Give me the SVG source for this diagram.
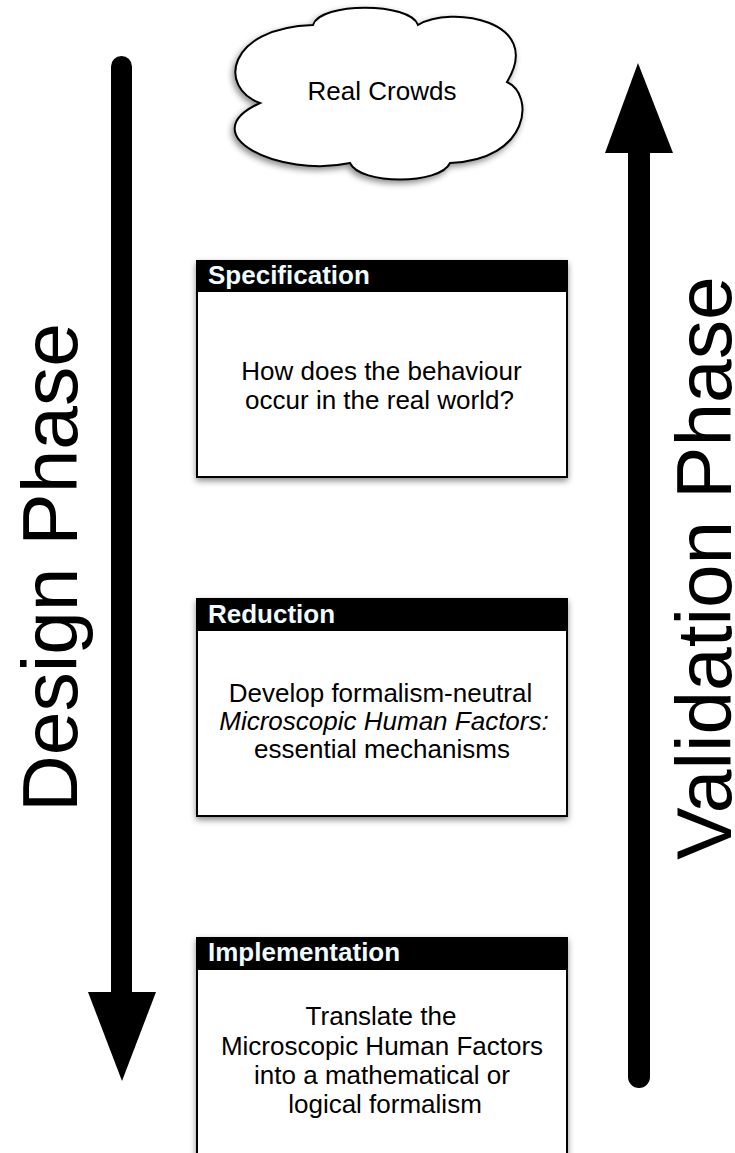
<svg xmlns="http://www.w3.org/2000/svg" width="735" height="1153" viewBox="0 0 735 1153">
<style>
.body{font-family:"Liberation Sans",Arial,sans-serif;font-size:26px;fill:#000;text-anchor:middle}
.head{font-family:"Liberation Sans",Arial,sans-serif;font-size:26px;font-weight:bold;fill:#eefcff}
.big{font-family:"Liberation Sans",Arial,sans-serif;font-size:78.5px;fill:#000;text-anchor:middle}
.box{fill:#fff;stroke:#000;stroke-width:2}
.bar{fill:#000}
</style>
<defs>
<filter id="sh" x="-10%" y="-10%" width="125%" height="130%">
<feDropShadow dx="0" dy="3" stdDeviation="3" flood-color="#000" flood-opacity="0.45"/>
</filter>
<filter id="shc" x="-10%" y="-10%" width="125%" height="130%">
<feDropShadow dx="-2" dy="3" stdDeviation="3" flood-color="#000" flood-opacity="0.45"/>
</filter>
</defs>
<g id="phase-arrows">
<g id="design-arrow">
<line x1="121.5" y1="66.5" x2="121.5" y2="995" stroke="#000" stroke-width="21" stroke-linecap="round"/>
<polygon points="88,992 156,992 122,1081" fill="#000"/>
</g>
<g id="validation-arrow">
<line x1="639" y1="150" x2="639" y2="1077" stroke="#000" stroke-width="22" stroke-linecap="round"/>
<polygon points="605,153 673,153 638,63" fill="#000"/>
</g>
</g>
<g id="design-label">
<text class="big" transform="translate(77,567.5) rotate(-90)">Design Phase</text>
</g>
<g id="validation-label">
<text class="big" transform="translate(731,568) rotate(-90)">Validation Phase</text>
</g>
<g id="real-crowds">
<path filter="url(#shc)" fill="#fff" stroke="#000" stroke-width="2" d="M260,103 C218,88 226,28 313,25 C320,2 410,2 418,25 C450,5 545,20 507,82 C535,95 530,160 450,163 C440,185 360,185 350,163 C280,178 190,135 260,103 Z"/>
<text class="body" x="382" y="100">Real Crowds</text>
</g>
<g id="specification">
<rect class="box" x="197" y="261" width="370" height="216" filter="url(#sh)"/>
<rect class="bar" x="197" y="261" width="370" height="31"/>
<text class="head" x="208" y="284">Specification</text>
<text class="body" x="381.5" y="380">How does the behaviour</text>
<text class="body" x="379.5" y="409">occur in the real world?</text>
</g>
<g id="reduction">
<rect class="box" x="197" y="599" width="370" height="217" filter="url(#sh)"/>
<rect class="bar" x="197" y="599" width="370" height="32"/>
<text class="head" x="208" y="623">Reduction</text>
<text class="body" x="380.5" y="702">Develop formalism-neutral</text>
<text class="body" x="384" y="730" font-style="italic">Microscopic Human Factors:</text>
<text class="body" x="382" y="758">essential mechanisms</text>
</g>
<g id="implementation">
<rect class="box" x="197" y="938" width="370" height="240" filter="url(#sh)"/>
<rect class="bar" x="197" y="938" width="370" height="32"/>
<text class="head" x="208" y="961">Implementation</text>
<text class="body" x="381" y="1025">Translate the</text>
<text class="body" x="382" y="1055">Microscopic Human Factors</text>
<text class="body" x="382" y="1084">into a mathematical or</text>
<text class="body" x="385" y="1113">logical formalism</text>
</g>
</svg>
